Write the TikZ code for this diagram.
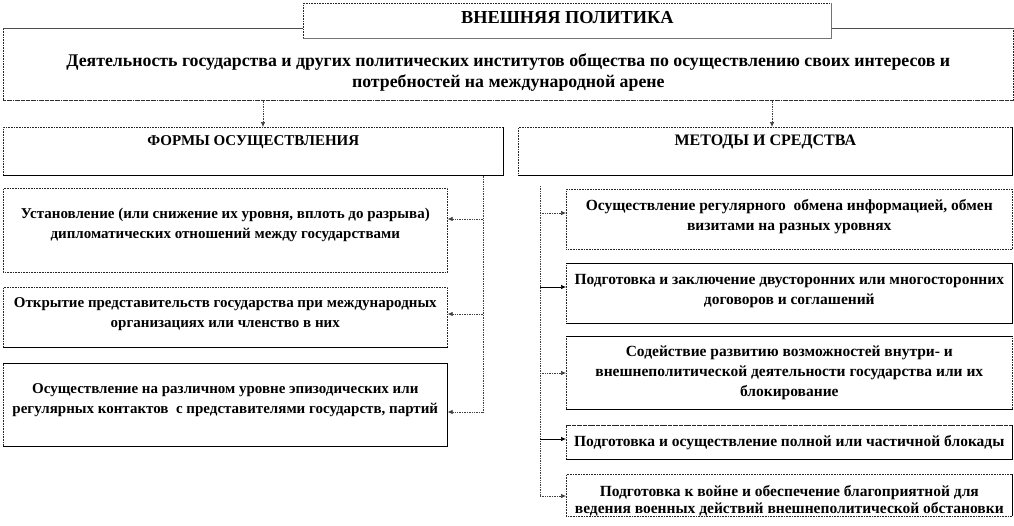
\documentclass[tikz,border=0pt]{standalone}
\usepackage{fontspec}
\setmainfont{Liberation Serif}
\usetikzlibrary{arrows.meta}
\begin{document}
\begin{tikzpicture}[x=1pt,y=-1pt,
  box/.style={draw=black!85, densely dotted, line width=0.6pt, fill=white, align=center,
    inner sep=0pt, anchor=north west},
  ltxt/.style={font=\bfseries\fontsize{15}{20}\selectfont},
  rtxt/.style={font=\bfseries\fontsize{15.5}{20}\selectfont},
  solidedge/.style={draw=black, solid, line width=0.8pt},
  shadowedge/.style={draw=black!55, solid, line width=1.4pt},
  conn/.style={draw=black!75, densely dotted, line width=0.7pt},
  arr/.style={conn, -{Latex[length=5pt,width=4.5pt]}},
  sarr/.style={draw=black, solid, line width=0.7pt, -{Latex[length=5pt,width=4.5pt]}},
]
\useasboundingbox (0,0) rectangle (1014,525);

% description and title
\node[box, minimum width=1010pt, minimum height=72pt,
  font=\bfseries\fontsize{17.8}{21}\selectfont] (desc) at (3,28)
  {\rule{0pt}{29pt}Деятельность государства и других политических институтов общества по осуществлению своих интересов и\\потребностей на международной арене};
\draw[draw=black!70, solid, line width=0.8pt] (desc.north west) -- (desc.north east);
\draw[draw=black!80, dashed, line width=0.6pt] (desc.south west) -- (desc.south east);

\node[box, minimum width=528pt, minimum height=35pt,
  font=\bfseries\fontsize{18.3}{20}\selectfont, text depth=7pt] (title) at (303,3)
  {ВНЕШНЯЯ ПОЛИТИКА};
\draw[shadowedge] (title.north east) -- (title.south east) -- (title.south west);

% headers
\node[box, minimum width=500pt, minimum height=48pt,
  font=\bfseries\fontsize{15}{20}\selectfont, text depth=22pt] (forms) at (3,127)
  {ФОРМЫ ОСУЩЕСТВЛЕНИЯ};
\node[box, minimum width=494pt, minimum height=48pt,
  font=\bfseries\fontsize{16}{20}\selectfont, text depth=22pt] (methods) at (518,127)
  {МЕТОДЫ И СРЕДСТВА};
\draw[solidedge] (forms.north east) -- (forms.south east) -- (forms.south west);
\draw[solidedge] (methods.north east) -- (methods.south east) -- (methods.south west);

% left column
\node[box, ltxt, minimum width=444pt, minimum height=84pt] (f1) at (3,188)
  {Установление (или снижение их уровня, вплоть до разрыва)\\дипломатических отношений между государствами\rule[-14pt]{0pt}{0pt}};
\node[box, ltxt, minimum width=444pt, minimum height=60pt] (f2) at (3,287)
  {Открытие представительств государства при международных\\организациях или членство в них\rule[-10pt]{0pt}{0pt}};
\node[box, ltxt, minimum width=444pt, minimum height=83pt] (f3) at (3,363)
  {Осуществление на различном уровне эпизодических или\\регулярных контактов\ \ с представителями государств, партий\rule[-12pt]{0pt}{0pt}};
\draw[solidedge] (f2.south east) -- (f2.south west);
\draw[solidedge] (f3.north west) -- (f3.north east) -- (f3.south east) -- (f3.south west);

% right column
\node[box, rtxt, minimum width=446pt, minimum height=60pt] (m1) at (566,189)
  {Осуществление регулярного\ \ обмена информацией, обмен\\визитами на разных уровнях\rule[-8pt]{0pt}{0pt}};
\node[box, rtxt, minimum width=446pt, minimum height=60pt] (m2) at (566,263)
  {Подготовка и заключение двусторонних или многосторонних\\договоров и соглашений\rule[-8pt]{0pt}{0pt}};
\node[box, rtxt, minimum width=446pt, minimum height=73pt] (m3) at (566,336)
  {Содействие развитию возможностей внутри- и\\внешнеполитической деятельности государства или их\\блокирование};
\node[box, rtxt, minimum width=446pt, minimum height=34pt] (m4) at (566,425)
  {Подготовка и осуществление полной или частичной блокады};
\node[box, minimum width=446pt, minimum height=38pt, font=\bfseries\fontsize{15.5}{17}\selectfont] (m5) at (566,474)
  {\rule{0pt}{22pt}Подготовка к войне и обеспечение благоприятной для\\ведения военных действий внешнеполитической обстановки};
\draw[solidedge] (m2.north west) -- (m2.north east) -- (m2.south east) -- (m2.south west);
\draw[solidedge] (m3.north west) -- (m3.north east);
\draw[solidedge] (m3.south east) -- (m3.south west);
\draw[draw=black!85, dashed, line width=0.6pt] (m4.north west) -- (m4.north east);
\draw[solidedge] (m4.north east) -- (m4.south east) -- (m4.south west);
\draw[solidedge] (m5.north east) -- (m5.south east);

% connectors from description
\coordinate (ax1) at (263,0);
\coordinate (ax2) at (772,0);
\draw[arr] (desc.south -| ax1) -- (forms.north -| ax1);
\draw[arr] (desc.south -| ax2) -- (methods.north -| ax2);

% left bus
\coordinate (lbtop) at (483,175);
\coordinate (lbbot) at (483,412);
\draw[conn] (forms.south -| lbtop) -- (lbbot);
\draw[arr] (lbtop |- 0,219) -- (f1.east |- 0,219);
\draw[arr] (lbtop |- 0,314) -- (f2.east |- 0,314);
\draw[arr] (lbbot) -- (f3.east |- lbbot);

% right bus
\coordinate (rbtop) at (540,186);
\coordinate (rbbot) at (540,496);
\draw[conn] (rbtop) -- (rbbot);
\draw[arr] (rbtop |- 0,213) -- (m1.west |- 0,213);
\draw[sarr] (rbtop |- 0,287) -- (m2.west |- 0,287);
\draw[arr] (rbtop |- 0,373) -- (m3.west |- 0,373);
\draw[sarr] (rbtop |- 0,439) -- (m4.west |- 0,439);
\draw[arr] (rbbot) -- (m5.west |- rbbot);
\end{tikzpicture}
\end{document}
